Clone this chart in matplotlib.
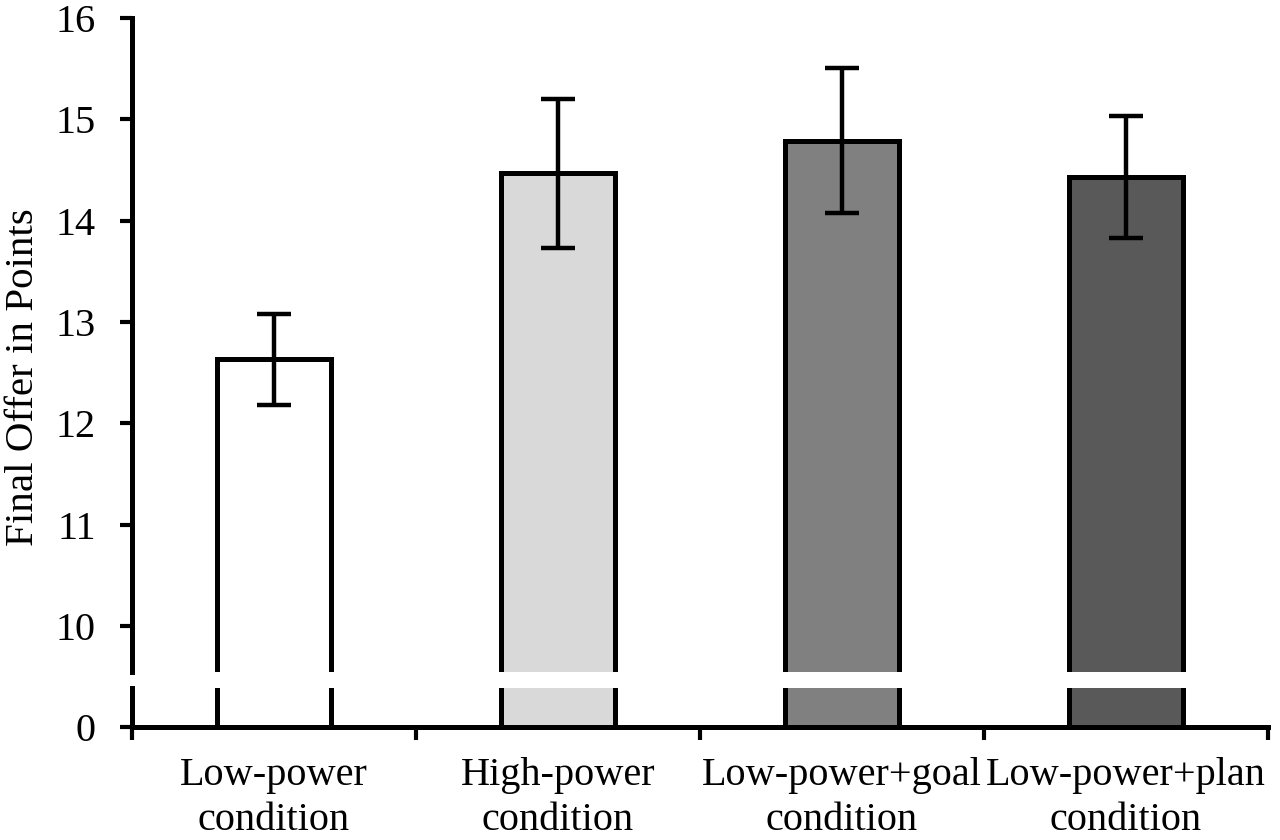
import matplotlib
matplotlib.use("Agg")
from matplotlib import pyplot as plt

conditions = ["Low-power\ncondition", "High-power\ncondition",
              "Low-power+goal\ncondition", "Low-power+plan\ncondition"]
offers = [12.63, 14.47, 14.79, 14.43]
errors = [0.45, 0.735, 0.715, 0.60]
colors = ["#ffffff", "#d9d9d9", "#808080", "#595959"]
upper_ticks = [10, 11, 12, 13, 14, 15, 16]

plt.rcParams["font.family"] = ["Liberation Serif", "DejaVu Serif"]

fig = plt.figure(figsize=(12.8, 8.4), dpi=100)
ax_top = fig.add_axes([0.1031, 0.2004, 0.8875, 0.7781])
ax_bot = fig.add_axes([0.1031, 0.1349, 0.8875, 0.0457])

x = list(range(len(offers)))
lw = 3.6
for ax in (ax_top, ax_bot):
    ax.bar(x, offers, width=0.4, color=colors, edgecolor="black", linewidth=lw)
    ax.set_xlim(-0.5, 3.5)
    ax.spines["top"].set_visible(False)
    ax.spines["right"].set_visible(False)
    ax.spines["left"].set_linewidth(lw)
    ax.spines["bottom"].set_linewidth(lw)
    ax.tick_params(axis="y", direction="out", length=9, width=3, labelsize=29, pad=17)

ax_top.errorbar(x, offers, yerr=errors, fmt="none", ecolor="black",
                elinewidth=3.2, capsize=12, capthick=3.2)
ax_top.set_ylim(9.548, 16)
ax_top.set_yticks(upper_ticks)
ax_top.spines["bottom"].set_visible(False)
ax_top.tick_params(axis="x", bottom=False, labelbottom=False)

fig.text(24 / 1280, 1 - 377 / 840, "Final Offer in Points", fontsize=29.5,
         rotation=90, ha="center", va="center")

ax_bot.set_ylim(0, 0.379)
ax_bot.set_yticks([0])
ax_bot.set_xticks([-0.5, 0.5, 1.5, 2.5, 3.5])
ax_bot.set_xticklabels([])
ax_bot.tick_params(axis="x", which="major", direction="out", length=9, width=3)

# category labels drawn as text so the line spacing can be set
for xi, name in zip(x, conditions):
    ax_bot.text(xi, -0.78, name, transform=ax_bot.get_xaxis_transform(),
                ha="center", va="top", fontsize=29, linespacing=1.3,
                multialignment="center")

fig.savefig("out.png", dpi=100)
